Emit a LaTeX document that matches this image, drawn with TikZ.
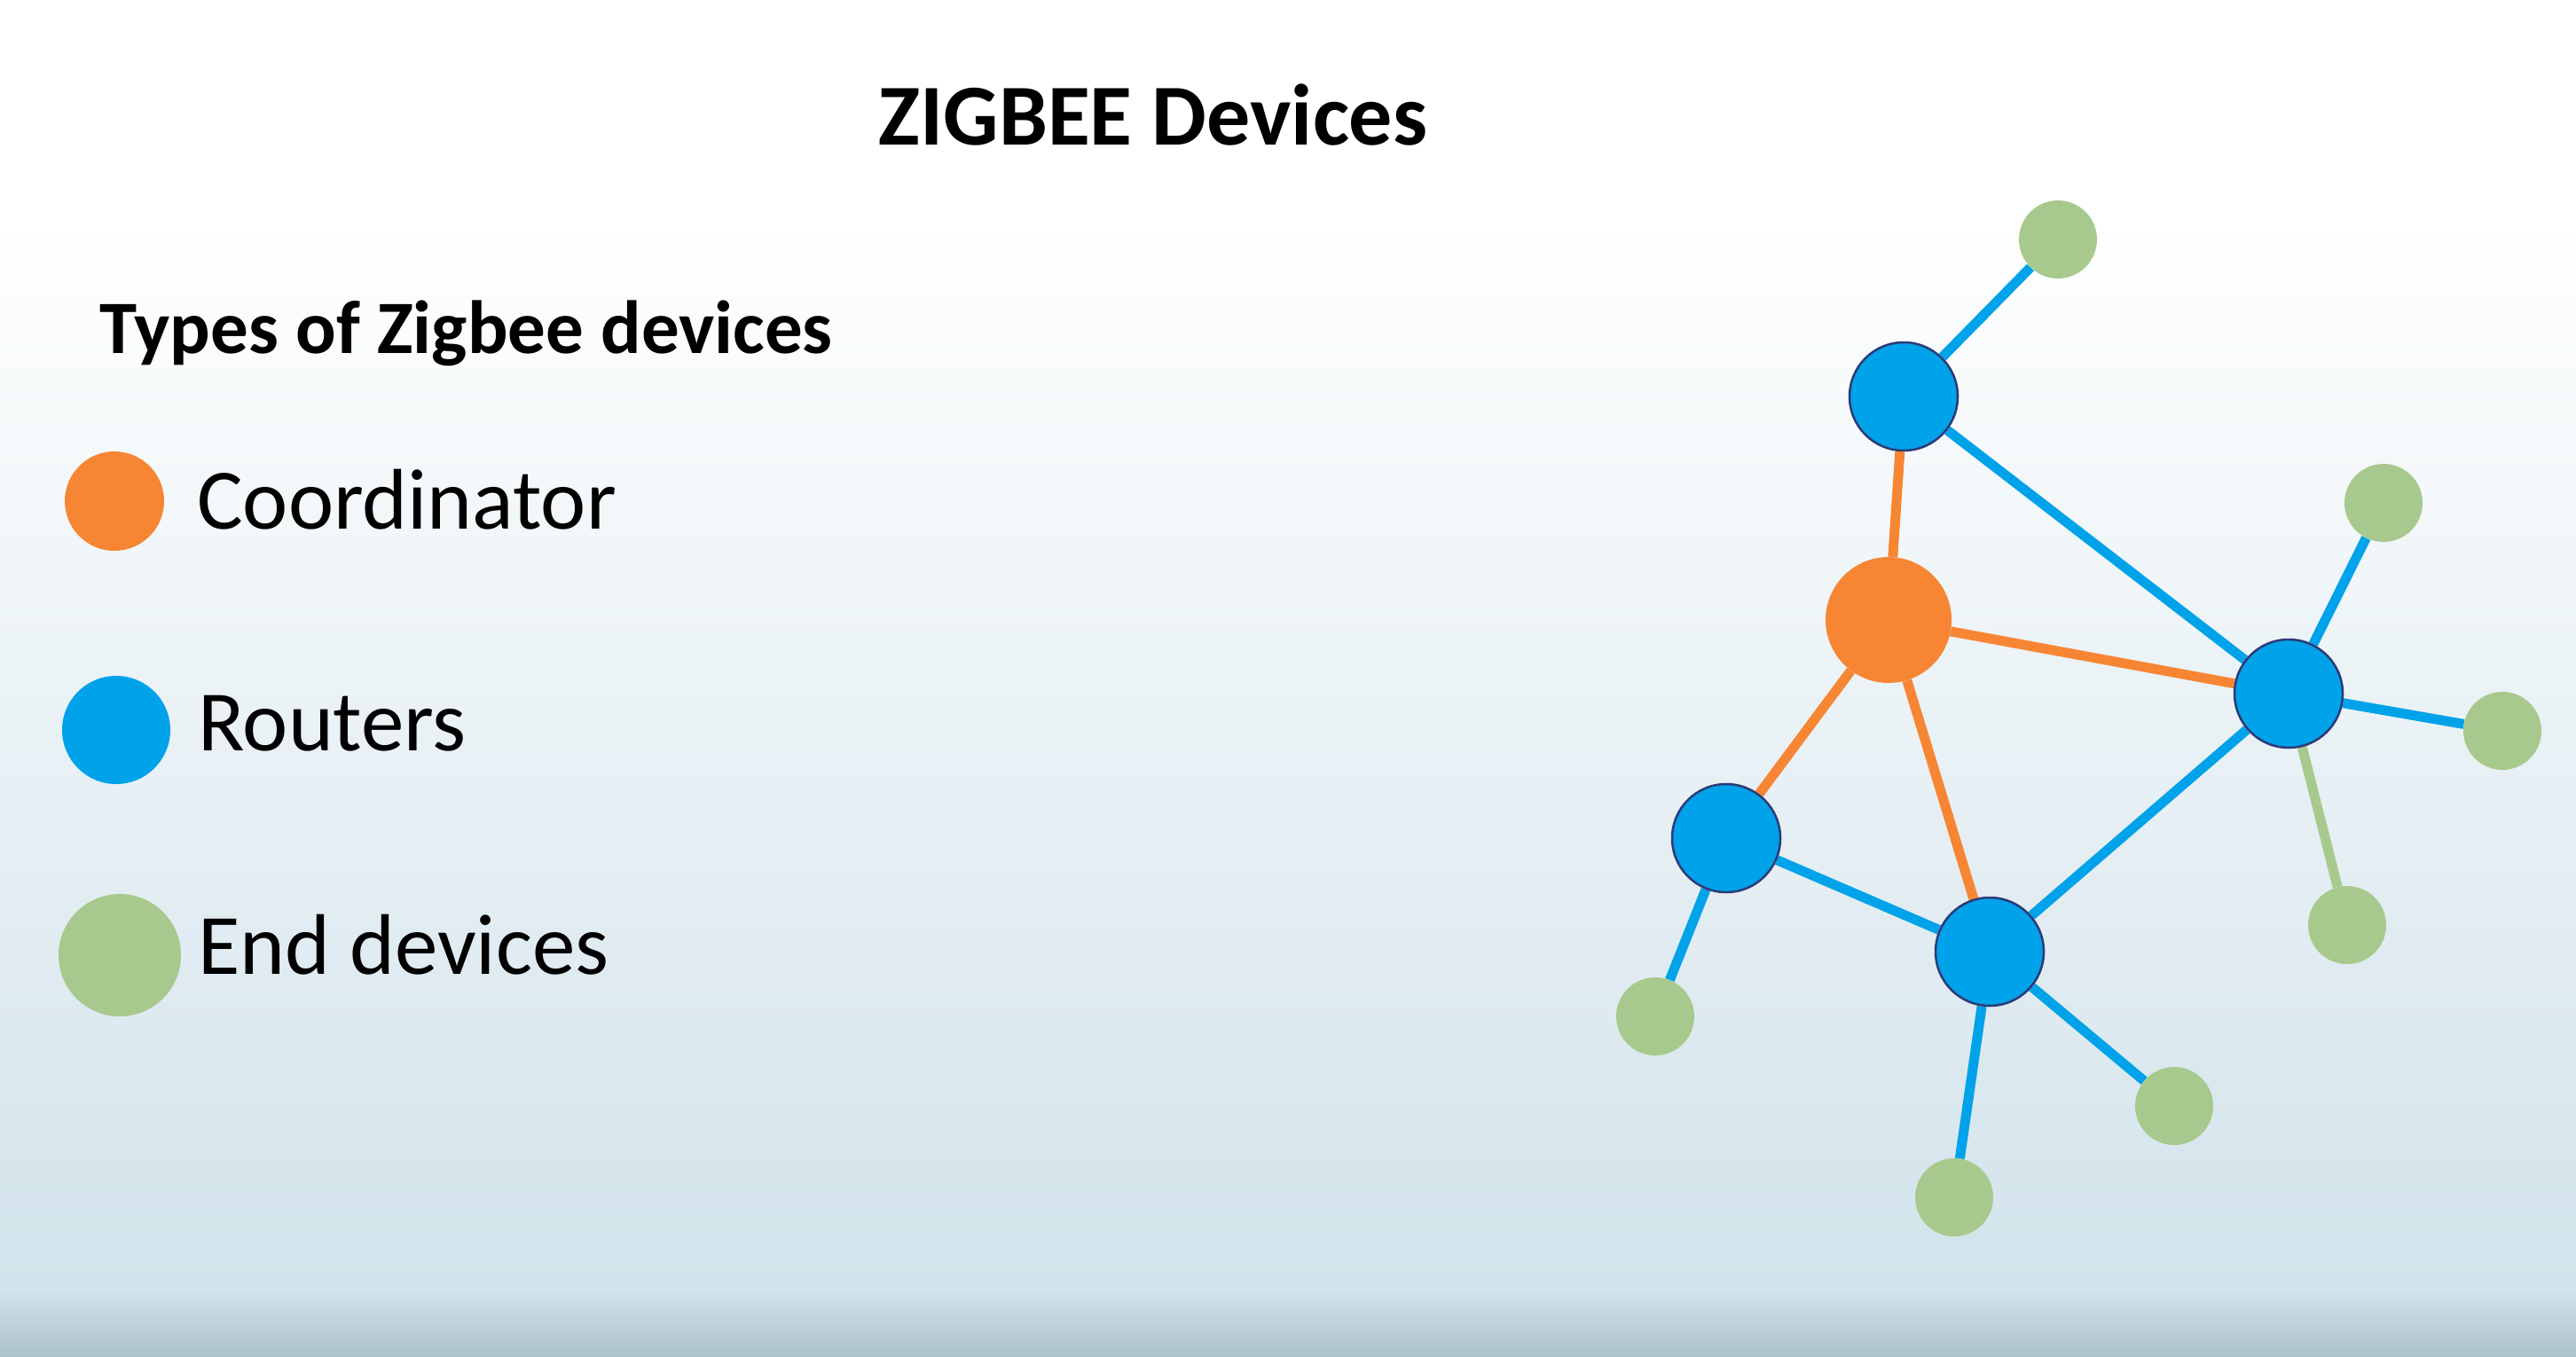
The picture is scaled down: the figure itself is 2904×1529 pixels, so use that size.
\documentclass[tikz,border=0pt]{standalone}
\usepackage{fontspec}
\setmainfont{Carlito}
\definecolor{zbBlue}{RGB}{0,162,233}
\definecolor{zbOrange}{RGB}{247,134,52}
\definecolor{zbGreen}{RGB}{168,201,141}
\definecolor{zbNavy}{RGB}{44,58,118}
\definecolor{bgMid}{RGB}{210,227,235}
\definecolor{bgLow}{RGB}{172,194,203}
\pgfdeclarelayer{bg}
\pgfdeclarelayer{edges}
\pgfsetlayers{bg,edges,main}
\tikzset{
  coordnode/.style={circle, fill=zbOrange, inner sep=0pt, minimum size=#1},
  routernode/.style={circle, fill=zbBlue, draw=zbNavy, line width=2.5pt, inner sep=0pt, minimum size=#1},
  endnode/.style={circle, fill=zbGreen, inner sep=0pt, minimum size=#1},
  blueedge/.style={draw=zbBlue, line width=11pt},
  orangeedge/.style={draw=zbOrange, line width=11pt},
  greenedge/.style={draw=zbGreen, line width=11pt},
  legendtext/.style={anchor=base west, inner sep=0pt, font=\fontsize{97}{110}\selectfont},
}
\begin{document}
\begin{tikzpicture}[x=1pt,y=-1pt]
% page background with its soft vertical gradient
\begin{pgfonlayer}{bg}
  \fill[white] (0,0) rectangle (2904,240);
  \shade[top color=white, bottom color=bgMid] (0,239) rectangle (2904,1455);
  \shade[top color=bgMid, bottom color=bgLow] (0,1454) rectangle (2904,1529);
\end{pgfonlayer}
\useasboundingbox (0,0) rectangle (2904,1529);

% headings
\node[anchor=base, inner sep=0pt, font=\fontsize{98}{112}\selectfont\bfseries] (title) at (1300,163) {ZIGBEE Devices};
\node[anchor=base west, inner sep=0pt, font=\fontsize{85}{98}\selectfont\bfseries] (subtitle) at (112,398) {Types of Zigbee devices};

% legend
\node[coordnode=112pt] (lgC) at (129,565) {};
\node[endnode=122pt, fill=zbBlue] (lgR) at (131,823) {};
\node[endnode=138pt] (lgE) at (135,1077) {};
\node[legendtext] (lgCt) at (222,596) {Coordinator};
\node[legendtext] (lgRt) at (223,846) {Routers};
\node[legendtext] (lgEt) at (223,1098) {End devices};

% network nodes
\node[coordnode=142pt] (co) at (2129,699) {};
\node[routernode=122pt] (r1) at (2146,447) {};
\node[routernode=122pt] (r2) at (2580,782) {};
\node[routernode=122pt] (r3) at (1946,945) {};
\node[routernode=122pt] (r4) at (2243,1073) {};
\node[endnode=88pt] (e1) at (2320,270) {};
\node[endnode=88pt] (e2) at (2687,567) {};
\node[endnode=88pt] (e3) at (2821,824) {};
\node[endnode=88pt] (e4) at (2646,1043) {};
\node[endnode=88pt] (e5) at (1866,1146) {};
\node[endnode=88pt] (e6) at (2451,1247) {};
\node[endnode=88pt] (e7) at (2203,1350) {};

% links
\begin{pgfonlayer}{edges}
  \draw[blueedge] (r1) -- (e1);
  \draw[orangeedge] (r1) -- (co);
  \draw[blueedge] (r1) -- (r2);
  \draw[orangeedge] (co) -- (r2);
  \draw[orangeedge] (co) -- (r3);
  \draw[orangeedge] (co) -- (r4);
  \draw[blueedge] (r3) -- (r4);
  \draw[blueedge] (r3) -- (e5);
  \draw[blueedge] (r4) -- (r2);
  \draw[blueedge] (r4) -- (e7);
  \draw[blueedge] (r4) -- (e6);
  \draw[blueedge] (r2) -- (e2);
  \draw[blueedge] (r2) -- (e3);
  \draw[greenedge] (r2) -- (e4);
\end{pgfonlayer}
\end{tikzpicture}
\end{document}
